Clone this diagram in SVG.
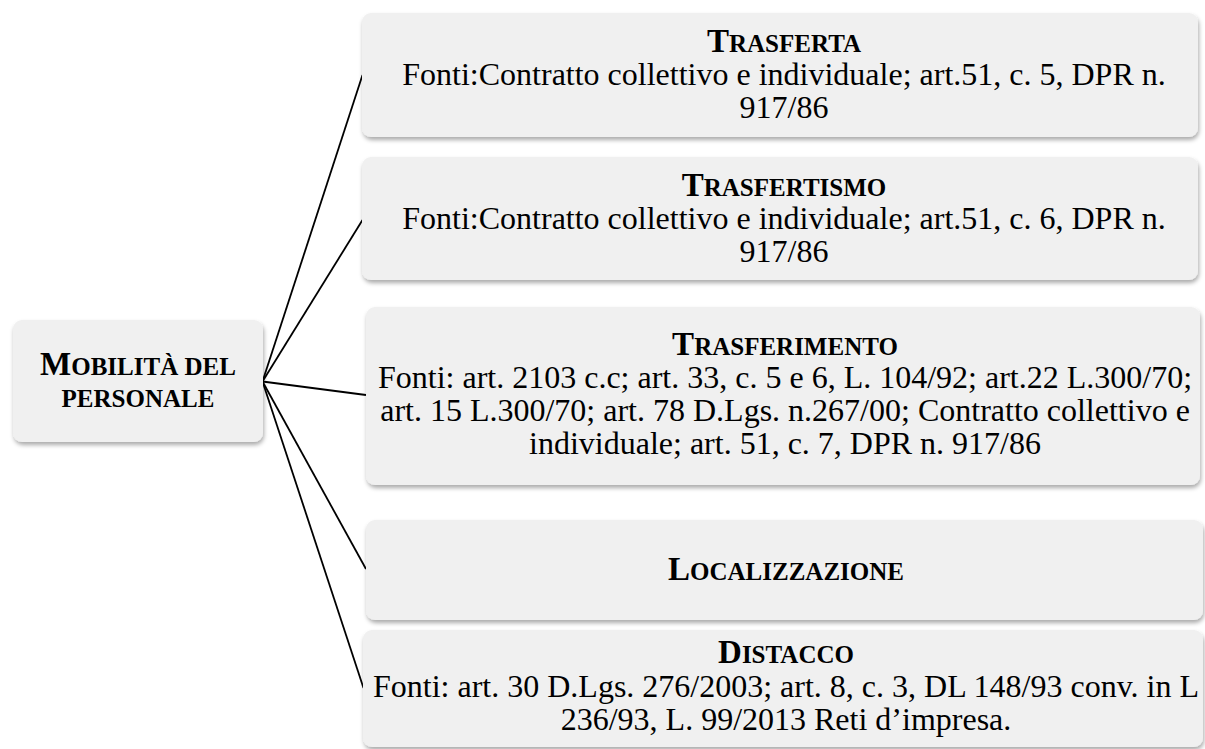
<svg xmlns="http://www.w3.org/2000/svg" width="1205" height="749" viewBox="0 0 1205 749">
  <defs>
    <filter id="shadow" x="-5%" y="-10%" width="110%" height="130%">
      <feDropShadow dx="1" dy="3" stdDeviation="2" flood-color="#000" flood-opacity="0.33"/>
    </filter>
  </defs>
  <style>
    .box { fill: #f0f0f0; filter: url(#shadow); }
    .link { stroke: #000; stroke-width: 1.8; fill: none; }
    .t { font-family: "Liberation Serif", "Times New Roman", serif; fill: #000; text-anchor: middle; }
    .title { font-weight: bold; }
    .cap { font-size: 33px; }
    .sc { font-size: 25px; }
    .body { font-size: 32px; }
  </style>
  <rect width="1205" height="749" fill="#fff"/>

  <!-- connectors from the root node to each branch -->
  <g id="connectors">
    <line class="link" x1="262.5" y1="381.5" x2="362.5" y2="75"/>
    <line class="link" x1="262.5" y1="381.5" x2="362.5" y2="220"/>
    <line class="link" x1="262.5" y1="381.5" x2="366" y2="395"/>
    <line class="link" x1="262.5" y1="381.5" x2="366" y2="569"/>
    <line class="link" x1="262.5" y1="381.5" x2="363.5" y2="688"/>
  </g>

  <g id="root">
    <rect class="box" x="13" y="320" width="250" height="122" rx="9"/>
    <text class="t title" x="138" y="375"><tspan class="cap">M</tspan><tspan class="sc">OBILITÀ DEL</tspan></text>
    <text class="t title sc" x="138" y="407">PERSONALE</text>
  </g>

  <g id="trasferta">
    <rect class="box" x="362" y="13" width="836" height="124" rx="9"/>
    <text class="t title" x="784" y="52"><tspan class="cap">T</tspan><tspan class="sc">RASFERTA</tspan></text>
    <text class="t body" x="784" y="85">Fonti:Contratto collettivo e individuale; art.51, c. 5, DPR n.</text>
    <text class="t body" x="784" y="118">917/86</text>
  </g>

  <g id="trasfertismo">
    <rect class="box" x="362" y="157" width="836" height="123" rx="9"/>
    <text class="t title" x="784" y="196"><tspan class="cap">T</tspan><tspan class="sc">RASFERTISMO</tspan></text>
    <text class="t body" x="784" y="229">Fonti:Contratto collettivo e individuale; art.51, c. 6, DPR n.</text>
    <text class="t body" x="784" y="262">917/86</text>
  </g>

  <g id="trasferimento">
    <rect class="box" x="366" y="307" width="834" height="178" rx="9"/>
    <text class="t title" x="785" y="355"><tspan class="cap">T</tspan><tspan class="sc">RASFERIMENTO</tspan></text>
    <text class="t body" x="785" y="388">Fonti: art. 2103 c.c; art. 33, c. 5 e 6, L. 104/92; art.22 L.300/70;</text>
    <text class="t body" x="785" y="421">art. 15 L.300/70; art. 78 D.Lgs. n.267/00; Contratto collettivo e</text>
    <text class="t body" x="785" y="454">individuale; art. 51, c. 7, DPR n. 917/86</text>
  </g>

  <g id="localizzazione">
    <rect class="box" x="366" y="520" width="837" height="100" rx="9"/>
    <text class="t title" x="786" y="580"><tspan class="cap">L</tspan><tspan class="sc">OCALIZZAZIONE</tspan></text>
  </g>

  <g id="distacco">
    <rect class="box" x="363" y="630" width="840" height="117" rx="9"/>
    <text class="t title" x="786" y="663"><tspan class="cap">D</tspan><tspan class="sc">ISTACCO</tspan></text>
    <text class="t body" x="786" y="697">Fonti: art. 30 D.Lgs. 276/2003; art. 8, c. 3, DL 148/93 conv. in L</text>
    <text class="t body" x="786" y="730">236/93, L. 99/2013 Reti d’impresa.</text>
  </g>
</svg>
